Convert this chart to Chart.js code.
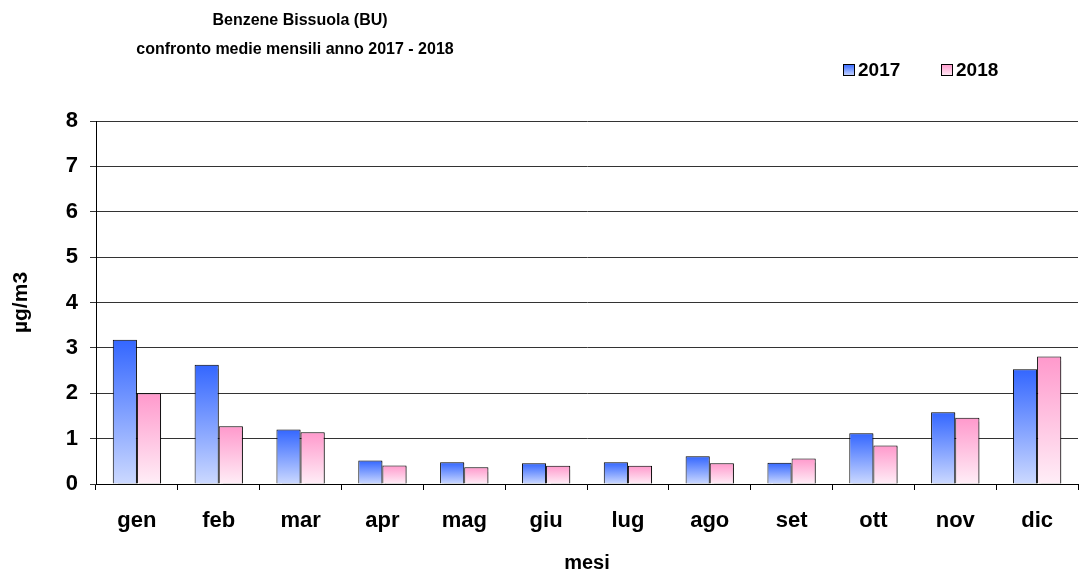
<!DOCTYPE html>
<html>
<head>
<meta charset="utf-8">
<script src="https://cdn.jsdelivr.net/npm/chart.js@4/dist/chart.umd.min.js"></script>
<style>
  html, body { margin: 0; padding: 0; background: #fff; }
  #wrap { width: 1088px; height: 579px; position: relative; }
</style>
</head>
<body>
<div id="wrap"><canvas id="c" width="1088" height="579"></canvas></div>
<script>
// Monthly benzene averages, Bissuola station (µg/m3)
const months = ['gen', 'feb', 'mar', 'apr', 'mag', 'giu', 'lug', 'ago', 'set', 'ott', 'nov', 'dic'];
const values2017 = [3.18, 2.63, 1.20, 0.52, 0.48, 0.46, 0.48, 0.61, 0.47, 1.12, 1.58, 2.53];
const values2018 = [2.00, 1.27, 1.14, 0.41, 0.37, 0.40, 0.40, 0.46, 0.56, 0.85, 1.46, 2.81];
const seriesLabels = ['2017', '2018'];
const yTicks = [0, 1, 2, 3, 4, 5, 6, 7, 8];

const titleLines = ['Benzene Bissuola (BU)', 'confronto medie mensili anno 2017 - 2018'];
const FONT = 'Arial, "Liberation Sans", sans-serif';

const palettes = [
  { top: '#3366ff', bottom: '#ccd9ff' },
  { top: '#ff99cc', bottom: '#ffeef7' }
];

// Vertical gradient spanning each bar from its top down to the baseline
function barGradient(ctx, dsIndex) {
  const chart = ctx.chart;
  const area = chart.chartArea;
  const pal = palettes[dsIndex];
  if (!area) return pal.top;
  const y = chart.scales.y;
  const v = ctx.raw;
  if (v === undefined || v === null) return pal.top;
  const yTop = y.getPixelForValue(v);
  const yBot = y.getPixelForValue(0);
  const g = chart.ctx.createLinearGradient(0, yTop, 0, Math.max(yBot, yTop + 1));
  g.addColorStop(0, pal.top);
  g.addColorStop(1, pal.bottom);
  return g;
}

// Titles and legend drawn on the canvas
const decorations = {
  id: 'decorations',
  afterDraw(chart) {
    const c = chart.ctx;
    c.save();
    c.fillStyle = '#000';
    c.textAlign = 'center';
    c.textBaseline = 'middle';
    c.font = 'bold 16px ' + FONT;
    c.fillText(titleLines[0], 300, 21);
    c.fillText(titleLines[1], 295, 50);

    const legendX = [843, 941];
    legendX.forEach((bx, i) => {
      const by = 64, bs = 12;
      const g = c.createLinearGradient(0, by, 0, by + bs);
      g.addColorStop(0, palettes[i].top);
      g.addColorStop(1, palettes[i].bottom);
      c.fillStyle = g;
      c.fillRect(bx, by, bs, bs);
      c.strokeStyle = '#000';
      c.lineWidth = 1;
      c.strokeRect(bx + 0.5, by + 0.5, bs - 1, bs - 1);
      c.fillStyle = '#000';
      c.textAlign = 'left';
      c.font = 'bold 19px ' + FONT;
      c.fillText(seriesLabels[i], bx + bs + 3, by + 7);
    });
    c.restore();
  }
};

// Soft grey drop shadow behind the bars
const barShadow = {
  id: 'barShadow',
  beforeDatasetsDraw(chart) {
    const c = chart.ctx;
    c.save();
    c.shadowColor = 'rgba(0,0,0,0.3)';
    c.shadowOffsetX = 2;
    c.shadowOffsetY = 1;
    c.shadowBlur = 1;
  },
  afterDatasetsDraw(chart) {
    chart.ctx.restore();
  }
};

new Chart(document.getElementById('c'), {
  type: 'bar',
  data: {
    labels: months,
    datasets: [
      {
        label: seriesLabels[0],
        data: values2017,
        backgroundColor: (ctx) => barGradient(ctx, 0),
        borderColor: '#000',
        borderWidth: 1,
        categoryPercentage: 0.59,
        barPercentage: 1.0
      },
      {
        label: seriesLabels[1],
        data: values2018,
        backgroundColor: (ctx) => barGradient(ctx, 1),
        borderColor: '#000',
        borderWidth: 1,
        categoryPercentage: 0.59,
        barPercentage: 1.0
      }
    ]
  },
  options: {
    responsive: false,
    animation: false,
    devicePixelRatio: 1,
    layout: { padding: { top: 121, right: 10, left: 0, bottom: 0 } },
    plugins: {
      legend: { display: false },
      title: { display: false },
      tooltip: { enabled: false }
    },
    scales: {
      x: {
        afterFit(scale) { scale.height = 95; },
        grid: {
          offset: true,
          drawOnChartArea: false,
          drawTicks: true,
          tickLength: 6,
          color: '#000'
        },
        border: { display: true, color: '#000', width: 1 },
        ticks: {
          color: '#000',
          padding: 18,
          font: { family: FONT, size: 22, weight: 'bold' }
        },
        title: {
          display: true,
          text: 'mesi',
          color: '#000',
          padding: { top: 0, bottom: 4 },
          font: { family: FONT, size: 20, weight: 'bold' }
        }
      },
      y: {
        min: 0,
        max: 8,
        afterFit(scale) { scale.width = 96; },
        afterBuildTicks(scale) { scale.ticks = yTicks.map(v => ({ value: v })); },
        grid: {
          drawOnChartArea: true,
          drawTicks: true,
          tickLength: 6,
          color: '#333'
        },
        border: { display: true, color: '#000', width: 1 },
        ticks: {
          color: '#000',
          padding: 12,
          font: { family: FONT, size: 22, weight: 'bold' }
        },
        title: {
          display: true,
          text: 'µg/m3',
          color: '#000',
          padding: { top: 9, bottom: 0 },
          font: { family: FONT, size: 21, weight: 'bold' }
        }
      }
    }
  },
  plugins: [barShadow, decorations]
});
</script>
</body>
</html>
